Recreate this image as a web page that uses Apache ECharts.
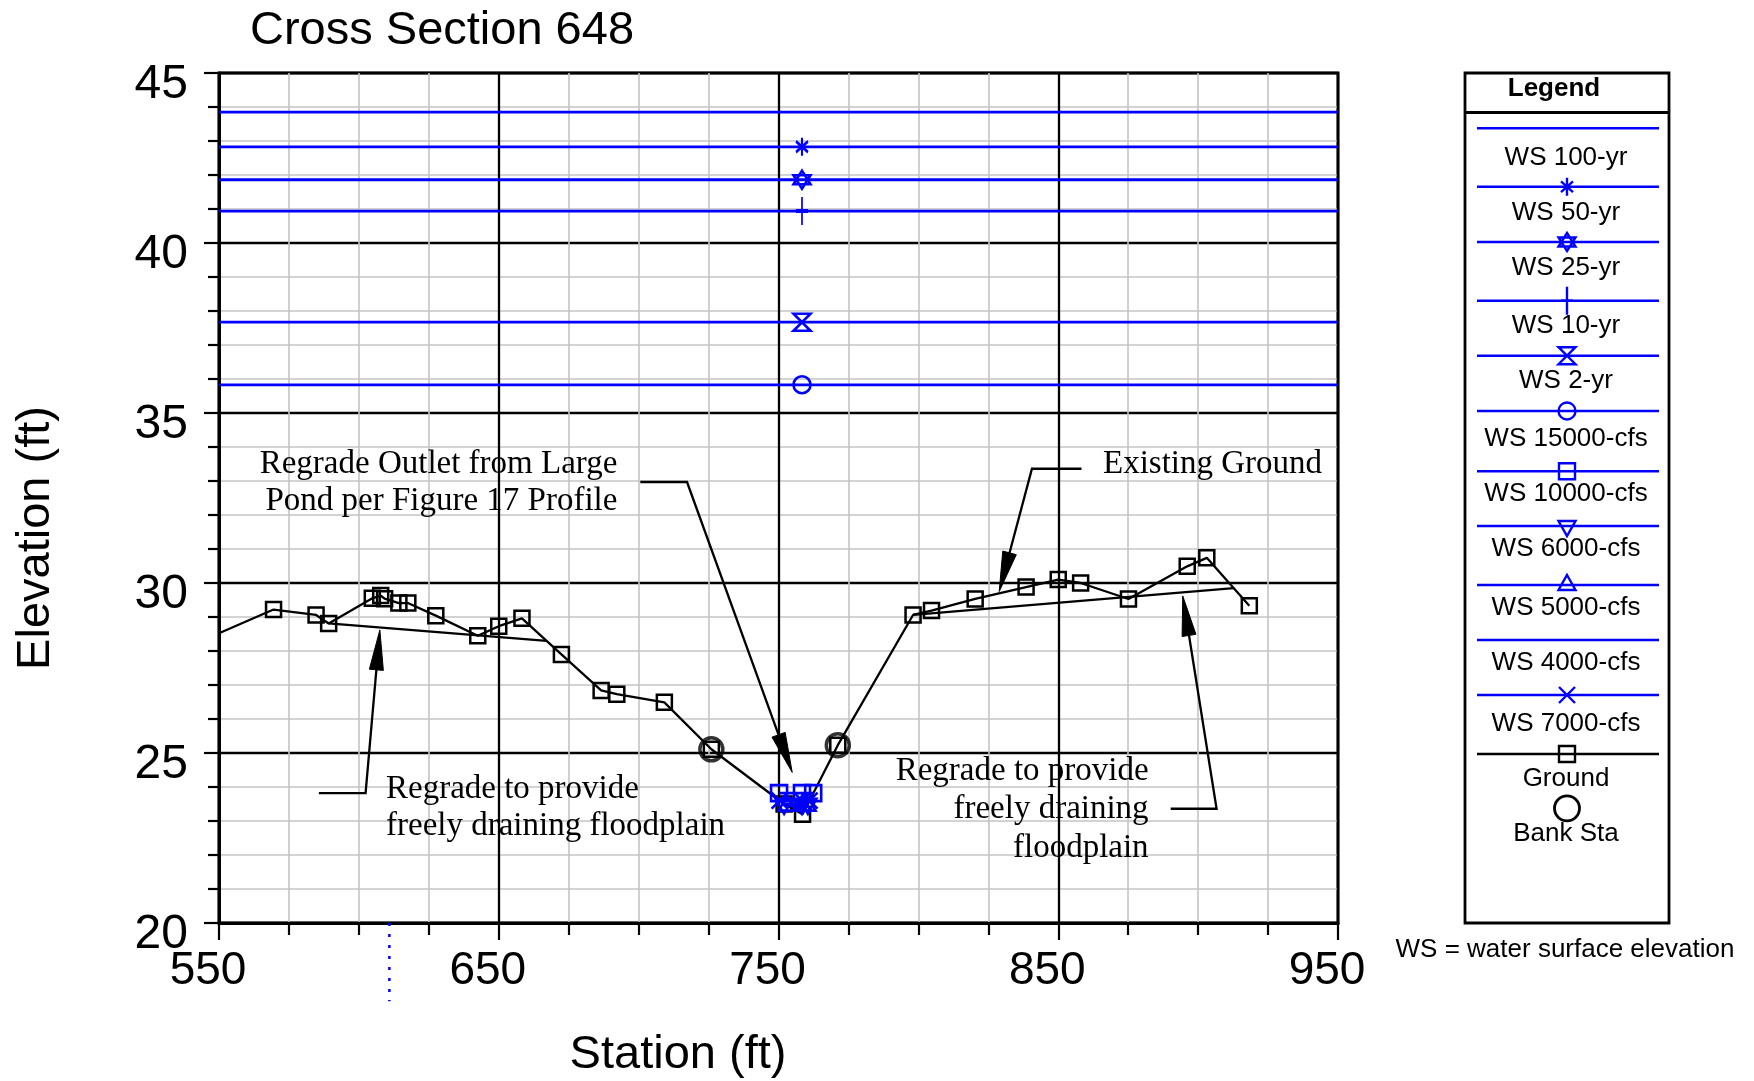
<!DOCTYPE html>
<html><head><meta charset="utf-8">
<script src="https://cdn.jsdelivr.net/npm/echarts@6/dist/echarts.min.js"></script>
<style>html,body{margin:0;padding:0;background:#fff}#c{width:1754px;height:1081px}</style>
</head><body><div id="c"></div><script>
// ---------------- data ----------------
const xTicks = [550, 650, 750, 850, 950];
const yTicks = [20, 25, 30, 35, 40, 45];

const groundStation = [550, 569.5, 584.7, 589.2, 604.8, 607.8, 609.2, 614.3, 617.5, 627.5, 642.5, 650.0, 658.3, 672.4, 686.6, 692.2, 709.2, 726.0, 752.0, 758.6, 771.2, 798.1, 804.7, 820.3, 838.5, 850.0, 858.0, 875.1, 896.1, 903.1, 918.3];
const groundElev    = [28.52, 29.22, 29.06, 28.81, 29.55, 29.63, 29.54, 29.41, 29.41, 29.04, 28.45, 28.73, 28.96, 27.90, 26.84, 26.73, 26.49, 25.11, 23.50, 23.20, 25.23, 29.06, 29.19, 29.53, 29.88, 30.10, 30.00, 29.53, 30.49, 30.74, 29.33];

const bankStation = [726.0, 771.2];
const bankElev    = [25.11, 25.23];

const wsNames  = ['WS 100-yr', 'WS 50-yr', 'WS 25-yr', 'WS 10-yr', 'WS 2-yr', 'WS 15000-cfs', 'WS 10000-cfs', 'WS 6000-cfs', 'WS 5000-cfs', 'WS 4000-cfs', 'WS 7000-cfs'];
const wsElev   = [43.85, 42.83, 41.86, 40.94, 37.67, 35.83, 23.82, 23.50, 23.45, 23.35, 23.60];
const wsLeft   = [550, 550, 550, 550, 550, 550, 750.2, 752.0, 753.1, 755.3, 750.4];
const wsRight  = [950, 950, 950, 950, 950, 950, 762.4, 760.5, 760.2, 759.5, 761.1];
const wsMarkStation = 758.4;
const wsSymbols = ['none', 'asterisk', 'star', 'plus', 'hourglass', 'circle', 'square', 'triDown', 'triUp', 'none', 'cross'];

const regradeLeftStation  = [589.2, 667.1];
const regradeLeftElev     = [28.81, 28.30];
const regradeRightStation = [798.1, 912.7];
const regradeRightElev    = [29.06, 29.85];

const markerStation = [610.9, 610.9];
const markerElev    = [20.0, 17.7];

const arrowPaths = [
  [[700.6, 32.97], [717.3, 32.97], [754.9, 24.43]],
  [[585.7, 23.82], [602.4, 23.82], [607.5, 28.62]],
  [[858.3, 33.36], [840.6, 33.36], [828.9, 29.75]],
  [[890.2, 23.36], [906.6, 23.36], [894.5, 29.62]]
];
const noteLines = ['Regrade Outlet from Large', 'Pond per Figure 17 Profile', 'Regrade to provide', 'freely draining floodplain', 'Existing Ground', 'Regrade to provide', 'freely draining', 'floodplain'];
const noteStation = [692.4, 692.4, 609.7, 609.7, 944.3, 882.3, 882.3, 882.3];
const noteElev    = [33.50, 32.40, 23.94, 22.84, 33.50, 24.45, 23.33, 22.21];
const noteAlign   = ['right', 'right', 'left', 'left', 'right', 'right', 'right', 'right'];

const legendNames = wsNames.concat(['Ground', 'Bank Sta']);
const legendSymbols = wsSymbols.concat(['square', 'bank']);

// ---------------- styles ----------------
const BLUE = '#0000ff';
const SANS = '"Liberation Sans", Arial, sans-serif';
const SERIF = '"Liberation Serif", "Times New Roman", serif';
const SYM = {
  asterisk: 'M0,-10L0,10M-7,-6L7,6M-7,6L7,-6',
  star: 'M0,-10L8.66,5L-8.66,5ZM0,10L8.66,-5L-8.66,-5Z',
  plus: 'M0,-10L0,10M-7,0L7,0',
  hourglass: 'M-8,-9L8,-9L-8,9L8,9Z',
  circle: 'M-8,0A8,8,0,1,0,8,0A8,8,0,1,0,-8,0Z',
  square: 'M-8,-8L8,-8L8,8L-8,8Z',
  triDown: 'M-8.66,-5L8.66,-5L0,10ZM0,-10',
  triUp: 'M0,-10L8.66,5L-8.66,5ZM0,10',
  cross: 'M-8,-8L8,8M-8,8L8,-8'
};
const SYM_SIZE = {asterisk: [12, 18], star: [17, 18], plus: [12, 28], hourglass: [17, 17], circle: [17, 17], square: [16, 16], triDown: [17, 20], triUp: [17, 20], cross: [16, 16]};

// ---------------- series ----------------
const series = [];

series.push({
  name: 'Ground', type: 'line', z: 3,
  data: groundStation.map((s, i) => i === 0 ? {value: [s, groundElev[i]], symbol: 'none'} : [s, groundElev[i]]),
  symbol: 'path://' + SYM.square, symbolSize: [15, 15], showAllSymbol: true,
  lineStyle: {color: '#000', width: 2.3},
  itemStyle: {color: 'transparent', borderColor: '#000', borderWidth: 2.5},
  animation: false, silent: true
});
series.push({
  name: 'Bank Sta', type: 'scatter', z: 4,
  data: bankStation.map((s, i) => [s, bankElev[i]]),
  symbol: 'circle', symbolSize: 23,
  itemStyle: {color: 'transparent', borderColor: '#000', borderWidth: 3.5},
  animation: false, silent: true
});
[[regradeLeftStation, regradeLeftElev], [regradeRightStation, regradeRightElev]].forEach(([xs, ys]) => {
  series.push({
    type: 'line', z: 3, data: xs.map((s, i) => [s, ys[i]]), symbol: 'none',
    lineStyle: {color: '#000', width: 2.3}, animation: false, silent: true
  });
});
series.push({
  type: 'line', z: 3, clip: false, data: markerStation.map((s, i) => [s, markerElev[i]]), symbol: 'none',
  lineStyle: {color: BLUE, width: 2.5, type: [3, 8]}, animation: false, silent: true
});

wsNames.forEach((name, k) => {
  const sym = wsSymbols[k];
  const mk = (x) => {
    const item = {value: [x, wsElev[k]]};
    if (sym === 'none' || x <= 550 || x >= 950) item.symbol = 'none';
    return item;
  };
  series.push({
    name, type: 'line', z: 4,
    data: [mk(wsLeft[k]), mk(wsMarkStation), mk(wsRight[k])],
    symbol: sym === 'none' ? 'none' : 'path://' + SYM[sym],
    symbolSize: sym === 'none' ? 0 : SYM_SIZE[sym], showAllSymbol: true,
    lineStyle: {color: BLUE, width: 2.8},
    itemStyle: {color: 'transparent', borderColor: BLUE, borderWidth: 2.6},
    animation: false, silent: true
  });
});

// arrows
series.push({
  type: 'custom', coordinateSystem: 'cartesian2d', z: 6, clip: false, silent: true, animation: false,
  data: arrowPaths.map((p, i) => [p[p.length - 1][0], p[p.length - 1][1], i]),
  renderItem: (params, api) => {
    const pts = arrowPaths[params.dataIndex].map(p => api.coord(p));
    const tip = pts[pts.length - 1], prev = pts[pts.length - 2];
    const dx = tip[0] - prev[0], dy = tip[1] - prev[1];
    const L = Math.hypot(dx, dy), ux = dx / L, uy = dy / L;
    const bx = tip[0] - ux * 40, by = tip[1] - uy * 40;
    const px = -uy * 7, py = ux * 7;
    const linePts = pts.slice(0, -1).concat([[bx + ux * 4, by + uy * 4]]);
    return {type: 'group', children: [
      {type: 'polyline', shape: {points: linePts}, style: {stroke: '#000', lineWidth: 2.3, fill: null}},
      {type: 'polygon', shape: {points: [tip, [bx + px, by + py], [bx - px, by - py]]}, style: {fill: '#000', stroke: '#000', lineWidth: 1}}
    ]};
  }
});
// annotation texts
series.push({
  type: 'custom', coordinateSystem: 'cartesian2d', z: 7, clip: false, silent: true, animation: false,
  data: noteLines.map((t, i) => [noteStation[i], noteElev[i], i]),
  renderItem: (params, api) => {
    const i = params.dataIndex;
    const p = api.coord([noteStation[i], noteElev[i]]);
    return {type: 'text', x: p[0], y: p[1], style: {
      text: noteLines[i], fill: '#000', fontSize: 33, fontFamily: SERIF,
      align: noteAlign[i], verticalAlign: 'middle'
    }};
  }
});

// ---------------- legend ----------------
const LG = {x: 1465, y: 73, w: 204, h: 850, head: 112.5, lx1: 1477, lx2: 1659, cx: 1567};
const legLineY = [128.3, 186.7, 242, 300.7, 355.7, 411, 471.3, 526, 585, 640, 695, 754, 808.3];
const legLabelY = [157.7, 212.7, 267.7, 326, 381, 439.3, 494.3, 549.3, 607.7, 662.7, 723.7, 779.3, 834.3];

series.push({
  type: 'custom', coordinateSystem: 'none', z: 20, silent: true, animation: false,
  data: legendNames.map((n, i) => [i]),
  renderItem: (params) => {
    const i = params.dataIndex;
    const sym = legendSymbols[i];
    const ly = legLineY[i];
    const col = i < wsNames.length ? BLUE : '#000';
    const children = [];
    if (sym === 'bank') {
      children.push({type: 'circle', shape: {cx: LG.cx, cy: ly, r: 12.5}, style: {fill: 'none', stroke: '#000', lineWidth: 2.8}});
    } else {
      children.push({type: 'line', shape: {x1: LG.lx1, y1: ly, x2: LG.lx2, y2: ly}, style: {stroke: col, lineWidth: 2.4}});
      if (sym !== 'none') {
        const sz = SYM_SIZE[sym];
        children.push({type: 'path', shape: {pathData: SYM[sym], x: LG.cx - sz[0] / 2, y: ly - sz[1] / 2, width: sz[0], height: sz[1], layout: 'cover'},
          style: {fill: 'none', stroke: col, lineWidth: 2.4}});
      }
    }
    children.push({type: 'text', x: 1566, y: legLabelY[i], style: {text: legendNames[i], fontSize: 26, fontFamily: SANS, fill: '#000', align: 'center', verticalAlign: 'middle'}});
    return {type: 'group', children};
  }
});

const graphics = [
  {type: 'rect', shape: {x: LG.x, y: LG.y, width: LG.w, height: LG.h}, style: {fill: '#fff', stroke: '#000', lineWidth: 2.8}, z: 10},
  {type: 'line', shape: {x1: LG.x, y1: LG.head, x2: LG.x + LG.w, y2: LG.head}, style: {stroke: '#000', lineWidth: 2.8}, z: 11},
  {type: 'text', x: 1554, y: 89, style: {text: 'Legend', fontSize: 26, fontWeight: 'bold', fontFamily: SANS, fill: '#000', align: 'center', verticalAlign: 'middle'}, z: 11},
  {type: 'text', x: 1565, y: 950, style: {text: 'WS = water surface elevation', fontSize: 26, fontFamily: SANS, fill: '#000', align: 'center', verticalAlign: 'middle'}},
  {type: 'text', x: 250, y: 31, style: {text: 'Cross Section 648', fontSize: 47, fontFamily: SANS, fill: '#000', align: 'left', verticalAlign: 'middle'}},
  {type: 'text', x: 678, y: 1055, style: {text: 'Station (ft)', fontSize: 47, fontFamily: SANS, fill: '#000', align: 'center', verticalAlign: 'middle'}},
  {type: 'text', x: 36, y: 538, rotation: Math.PI / 2, style: {text: 'Elevation (ft)', fontSize: 47, fontFamily: SANS, fill: '#000', align: 'center', verticalAlign: 'middle'}}
];

// ---------------- chart ----------------
const chart = echarts.init(document.getElementById('c'), null, {renderer: 'canvas'});
chart.setOption({
  backgroundColor: '#fff',
  animation: false,
  grid: {left: 219, right: 416, top: 73, bottom: 158, show: true, borderColor: '#000', borderWidth: 3, backgroundColor: 'transparent', containLabel: false, outerBoundsMode: 'none'},
  xAxis: {
    type: 'value', min: xTicks[0], max: xTicks[xTicks.length - 1], interval: xTicks[1] - xTicks[0],
    axisLine: {show: true, onZero: false, lineStyle: {color: '#000', width: 3}},
    axisTick: {show: true, length: 17, lineStyle: {color: '#000', width: 2.2}},
    minorTick: {show: true, splitNumber: 4, length: 12, lineStyle: {color: '#000', width: 2.2}},
    splitLine: {show: true, lineStyle: {color: '#000', width: 2.3}},
    minorSplitLine: {show: true, lineStyle: {color: '#c4c4c4', width: 1.6}},
    axisLabel: {fontSize: 46, fontFamily: SANS, color: '#000', margin: 25, padding: [0, 22, 0, 0],
      formatter: v => xTicks.includes(v) ? String(v) : ''}
  },
  yAxis: {
    type: 'value', min: yTicks[0], max: yTicks[yTicks.length - 1], interval: yTicks[1] - yTicks[0],
    axisLine: {show: true, onZero: false, lineStyle: {color: '#000', width: 3}},
    axisTick: {show: true, length: 15, lineStyle: {color: '#000', width: 2.2}},
    minorTick: {show: true, splitNumber: 5, length: 11, lineStyle: {color: '#000', width: 2.2}},
    splitLine: {show: true, lineStyle: {color: '#000', width: 2.3}},
    minorSplitLine: {show: true, lineStyle: {color: '#c4c4c4', width: 1.6}},
    axisLabel: {fontSize: 48, lineHeight: 24, fontFamily: SANS, color: '#000', margin: 31,
      formatter: v => yTicks.includes(v) ? '\n' + v : ''}
  },
  series,
  graphic: {elements: graphics}
});
</script></body></html>
